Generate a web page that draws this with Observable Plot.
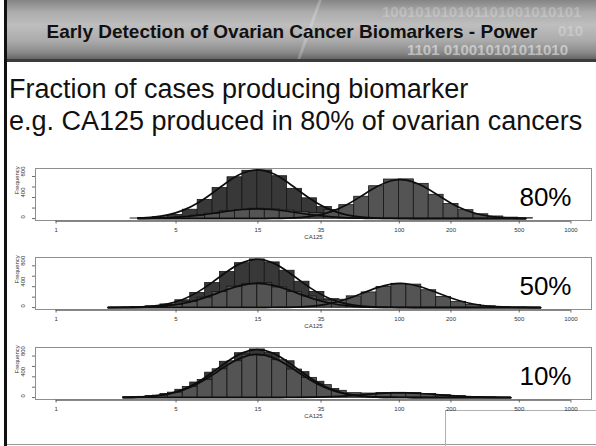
<!DOCTYPE html>
<html><head><meta charset="utf-8">
<script src="https://cdn.jsdelivr.net/npm/d3@7"></script>
<script src="https://cdn.jsdelivr.net/npm/@observablehq/plot@0.6"></script>
<style>
html,body{margin:0;padding:0;background:#fff;}
body{width:596px;height:446px;overflow:hidden;position:relative;font-family:"Liberation Sans",Arial,Helvetica,sans-serif;}
#header{position:absolute;left:7px;top:0;width:589px;height:59px;overflow:hidden;
 background:linear-gradient(#848484 0%,#ababab 20%,#bebebe 42%,#acacac 68%,#8c8c8c 88%,#666 100%);
 border-bottom:3px solid #3c3c3c;}
#streak{position:absolute;left:300px;top:-5px;width:3px;height:75px;background:rgba(255,255,255,0.22);transform:rotate(20deg);}
.bin{position:absolute;font-weight:bold;font-size:15px;line-height:16px;white-space:nowrap;}
#b1{left:375px;top:4px;color:rgba(255,255,255,0.24);}
#b2{left:551px;top:23px;color:rgba(255,255,255,0.26);}
#b3{left:400px;top:42px;color:rgba(255,255,255,0.48);}
#title{position:absolute;left:0;width:570px;top:21px;line-height:22px;text-align:center;font-weight:bold;font-size:19px;color:#111;white-space:nowrap;}
#leftbar{position:absolute;left:4px;top:0;width:3px;height:446px;background:#111;}
#bottomline{position:absolute;left:7px;top:444px;width:589px;height:1px;background:#9a9a9a;}
#corner{position:absolute;left:445px;top:410px;width:151px;height:36px;border-left:1px solid #b0b0b0;border-top:1px solid #b0b0b0;box-sizing:border-box;}
#body{position:absolute;left:9px;top:73px;font-size:27px;line-height:32px;color:#111;white-space:nowrap;}
.panel{position:absolute;left:0;}
</style></head>
<body>
<div id="header">
 <div id="streak"></div>
 <div class="bin" id="b1">100101010101101001010101</div>
 <div class="bin" id="b2">010</div>
 <div class="bin" id="b3">1101 010010101011010</div>
 <div id="title">Early Detection of Ovarian Cancer Biomarkers - Power</div>
</div>
<div id="leftbar"></div>
<div id="bottomline"></div>
<div id="corner"></div>
<div id="body"><div>Fraction of cases producing biomarker</div><div>e.g. CA125 produced in 80% of ovarian cancers</div></div>
<div class="panel" id="p1" style="top:164px"></div>
<div class="panel" id="p2" style="top:253px"></div>
<div class="panel" id="p3" style="top:343px"></div>
<script>
// ---- axis ticks & labels ----
const xTicks = [1, 5, 15, 35, 100, 200, 500, 1000];
const yTicks = [0, 200, 400, 600, 800];
const yLabelTicks = [0, 400, 800];
const pctLabels = ["80%", "50%", "10%"];
const xLabel = "CA125";
const yLabel = "Frequency";
const binWidth = 0.2; // histogram bin width in ln(CA125)

// grid (ln CA125) on which the fitted density curves were read
const curveLn = [0.7, 0.9, 1.1, 1.3, 1.5, 1.7, 1.9, 2.1, 2.3, 2.5, 2.7, 2.9, 3.1, 3.3, 3.5,
                 3.7, 3.9, 4.1, 4.3, 4.5, 4.7, 4.9, 5.1, 5.3, 5.5, 5.7, 5.9, 6.1, 6.3, 6.5];

// ---- 80% panel ----
const p80DarkStart = 1.2;
const p80Dark = [8, 25, 70, 168, 355, 580, 785, 908, 915, 805, 565, 385, 220, 110, 48, 18, 6];
const p80LightStart = 1.1;
const p80Light = [2, 5, 12, 28, 55, 92, 140, 165, 188, 176, 152, 128, 105, 165, 255, 415, 615, 742, 745, 660, 452, 278, 160, 82, 40, 18, 7];
const p80CurveControls = [null, null, 10, 29, 71, 156, 296, 487, 696, 861, 925, 861, 696, 487, 296, 156, 71, 29, 10, 3, 1, 0, 0, 0, 0, 0, 0, 0, 0, null];
const p80CurveLow = [null, null, 2, 6, 14, 31, 59, 97, 139, 172, 185, 172, 139, 97, 59, 31, 14, 6, 2, 1, 0, 0, 0, 0, 0, 0, 0, 0, 0, null];
const p80CurveHigh = [null, null, 0, 0, 0, 0, 0, 0, 0, 0, 0, 2, 7, 23, 60, 136, 262, 431, 603, 719, 731, 633, 467, 293, 157, 72, 28, 9, 3, null];

// ---- 50% panel ----
const p50DarkStart = 1.1;
const p50Dark = [8, 25, 60, 140, 280, 470, 680, 850, 922, 865, 705, 495, 300, 160, 75, 30, 12, 4];
const p50LightStart = 0.8;
const p50Light = [1, 3, 8, 20, 50, 105, 190, 300, 400, 455, 470, 385, 300, 212, 135, 150, 215, 290, 395, 455, 440, 332, 205, 110, 52, 24, 9, 3, 1];
const p50CurveControls = [1, 3, 10, 29, 71, 156, 296, 487, 696, 861, 925, 861, 696, 487, 296, 156, 71, 29, 10, 3, 1, 0, 0, 0, 0, 0, 0, 0, 0, 0];
const p50CurveLow = [0, 1, 5, 14, 36, 78, 148, 243, 347, 430, 462, 430, 347, 243, 148, 78, 36, 14, 5, 1, 0, 0, 0, 0, 0, 0, 0, 0, 0, 0];
const p50CurveHigh = [0, 0, 0, 0, 0, 0, 0, 0, 0, 0, 0, 1, 5, 14, 37, 85, 164, 269, 377, 449, 456, 395, 292, 183, 98, 45, 18, 6, 2, 0];

// ---- 10% panel ----
const p10DarkStart = 1.1;
const p10Dark = [9, 28, 68, 150, 290, 480, 690, 855, 928, 858, 700, 490, 305, 165, 72, 30, 11, 3];
const p10LightStart = 1.0;
const p10Light = [4, 14, 38, 95, 205, 340, 545, 700, 825, 810, 720, 540, 380, 240, 130, 85, 78, 90, 92, 88, 68, 46, 28, 12, 6, 2];
const p10CurveControls = [null, 3, 10, 29, 71, 156, 296, 487, 696, 861, 925, 861, 696, 487, 296, 156, 71, 29, 10, 3, 1, 0, 0, 0, 0, 0, 0, 0, null, null];
const p10CurveLow = [null, 3, 9, 26, 64, 141, 266, 438, 626, 775, 832, 775, 626, 438, 266, 141, 64, 26, 9, 3, 1, 0, 0, 0, 0, 0, 0, 0, null, null];
const p10CurveHigh = [null, 0, 0, 0, 0, 0, 0, 0, 0, 0, 0, 0, 1, 3, 7, 17, 33, 54, 75, 89, 91, 79, 58, 37, 20, 9, 3, 1, null, null];

const darkFill = "#383838", lightFill = "#545454", barStroke = "#161616";

function bins(start, values) {
  return values.map((v, k) => ({c: start + k * binWidth, v}));
}
function curvePts(values) {
  return values.map((v, k) => ({x: Math.exp(curveLn[k]), y: v})).filter(d => d.y !== null);
}

const plotH = 52; // height of each framed plot region in px
function panel(idx, darkStart, dark, lightStart, light, curves) {
  const M = d3.max([...dark, ...light]);
  const y0 = -0.04 * M, y1 = 1.04 * M;
  const unit = (y1 - y0) / plotH; // data units per pixel
  const lo = Math.log10(xTicks[0]), hi = Math.log10(xTicks[xTicks.length - 1]);
  const pad = 0.04 * (hi - lo);
  const rectOpts = (fill) => ({
    x1: d => Math.exp(d.c - binWidth / 2), x2: d => Math.exp(d.c + binWidth / 2),
    y: "v", fill, stroke: barStroke, strokeWidth: 0.8, inset: 0
  });
  return Plot.plot({
    width: 596, height: 4 + plotH + 26,
    marginTop: 4, marginBottom: 26, marginLeft: 35, marginRight: 5,
    x: {type: "log", domain: [Math.pow(10, lo - pad), Math.pow(10, hi + pad)], axis: null},
    y: {domain: [y0, y1], axis: null},
    style: {fontFamily: "'Liberation Sans', Arial, sans-serif", background: "transparent", overflow: "visible"},
    marks: [
      Plot.rectY(bins(darkStart, dark), rectOpts(darkFill)),
      Plot.rectY(bins(lightStart, light), rectOpts(lightFill)),
      ...curves.map(c => Plot.line(curvePts(c), {x: "x", y: "y", curve: "natural", stroke: "#0d0d0d", strokeWidth: 1.7})),
      Plot.frame({stroke: "#8e8e8e", strokeWidth: 1}),
      // x axis: line, ticks, labels
      Plot.ruleY([y0 - 0.8 * unit], {x1: xTicks[0], x2: xTicks[xTicks.length - 1], stroke: "#444", strokeWidth: 0.8}),
      Plot.ruleX(xTicks, {x: d => d, y1: y0 - 0.8 * unit, y2: y0 - 3.5 * unit, stroke: "#444", strokeWidth: 0.8}),
      Plot.text(xTicks, {x: d => d, text: d => String(d), frameAnchor: "bottom", dy: 11.5, fontSize: 6, fill: "#333"}),
      // y axis: ticks and rotated labels
      Plot.ruleY(yTicks, {y: d => d, frameAnchor: "left", dx: -3, x1: null, x2: null, stroke: "#444", strokeWidth: 0.8, insetRight: 553}),
      Plot.text(yLabelTicks, {y: d => d, text: d => String(d), frameAnchor: "left", dx: -12, rotate: -90, fontSize: 6, fill: "#333"}),
      Plot.text([yLabel], {text: d => d, frameAnchor: "left", dx: -18, rotate: -90, fontSize: 6, fill: "#333"}),
      Plot.text([xLabel], {text: d => d, frameAnchor: "bottom", dy: 18, fontSize: 6, fill: "#333"}),
      Plot.text([pctLabels[idx]], {text: d => d, frameAnchor: "right", dx: -20, dy: 3, textAnchor: "end", fontSize: 26, fill: "#000"})
    ]
  });
}

document.getElementById("p1").appendChild(panel(0, p80DarkStart, p80Dark, p80LightStart, p80Light, [p80CurveControls, p80CurveLow, p80CurveHigh]));
document.getElementById("p2").appendChild(panel(1, p50DarkStart, p50Dark, p50LightStart, p50Light, [p50CurveControls, p50CurveLow, p50CurveHigh]));
document.getElementById("p3").appendChild(panel(2, p10DarkStart, p10Dark, p10LightStart, p10Light, [p10CurveControls, p10CurveLow, p10CurveHigh]));
</script>
</body></html>
